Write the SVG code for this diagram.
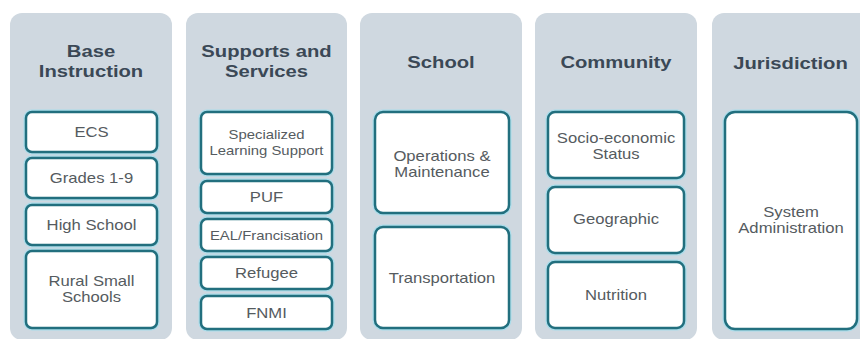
<svg xmlns="http://www.w3.org/2000/svg" width="860" height="339" viewBox="0 0 860 339">
  <style>
    .panel { fill: #cfd8e0; }
    .halo { fill: none; stroke: #a9dcea; stroke-width: 5; }
    .box { fill: #ffffff; stroke: #226f7e; stroke-width: 2.5; }
    .title { font-family: "Liberation Sans", Arial, sans-serif; font-weight: bold; font-size: 17px; fill: #3b4856; text-anchor: middle; }
    .label { font-family: "Liberation Sans", Arial, sans-serif; font-size: 14px; fill: #555b60; text-anchor: middle; }
    .small { font-size: 12.5px; }
  </style>
  <rect width="860" height="339" fill="#ffffff"/>

  <!-- Column panels -->
  <g id="panels">
    <rect class="panel" x="10" y="13" width="162" height="327" rx="12"/>
    <rect class="panel" x="186" y="13" width="161" height="327" rx="12"/>
    <rect class="panel" x="360" y="13" width="162" height="327" rx="12"/>
    <rect class="panel" x="535" y="13" width="162" height="327" rx="12"/>
    <rect class="panel" x="712" y="13" width="162" height="327" rx="12"/>
  </g>

  <!-- Column headings -->
  <g id="headings">
    <text class="title" transform="translate(91,57) scale(1.19,1)">Base</text>
    <text class="title" transform="translate(91,77) scale(1.19,1)">Instruction</text>
    <text class="title" transform="translate(266.5,57) scale(1.19,1)">Supports and</text>
    <text class="title" transform="translate(266.5,77) scale(1.19,1)">Services</text>
    <text class="title" transform="translate(441,68) scale(1.19,1)">School</text>
    <text class="title" transform="translate(616,68) scale(1.19,1)">Community</text>
    <text class="title" transform="translate(790.5,69) scale(1.19,1)">Jurisdiction</text>
  </g>

  <!-- Base Instruction -->
  <g id="ecs">
    <rect class="halo" x="26" y="112" width="131" height="40" rx="6"/>
    <rect class="box" x="26" y="112" width="131" height="40" rx="6"/>
    <text class="label" transform="translate(91.5,137) scale(1.19,1)">ECS</text>
  </g>
  <g id="grades-1-9">
    <rect class="halo" x="26" y="158" width="131" height="40" rx="6"/>
    <rect class="box" x="26" y="158" width="131" height="40" rx="6"/>
    <text class="label" transform="translate(91.5,183) scale(1.19,1)">Grades 1-9</text>
  </g>
  <g id="high-school">
    <rect class="halo" x="26" y="205" width="131" height="40" rx="6"/>
    <rect class="box" x="26" y="205" width="131" height="40" rx="6"/>
    <text class="label" transform="translate(91.5,230) scale(1.19,1)">High School</text>
  </g>
  <g id="rural-small-schools">
    <rect class="halo" x="26" y="251" width="131" height="77" rx="6"/>
    <rect class="box" x="26" y="251" width="131" height="77" rx="6"/>
    <text class="label" transform="translate(91.5,286) scale(1.19,1)">Rural Small</text>
    <text class="label" transform="translate(91.5,302) scale(1.19,1)">Schools</text>
  </g>

  <!-- Supports and Services -->
  <g id="specialized-learning-support">
    <rect class="halo" x="201" y="112" width="131" height="62" rx="6"/>
    <rect class="box" x="201" y="112" width="131" height="62" rx="6"/>
    <text class="label small" transform="translate(266.5,139) scale(1.19,1)">Specialized</text>
    <text class="label small" transform="translate(266.5,155) scale(1.19,1)">Learning Support</text>
  </g>
  <g id="puf">
    <rect class="halo" x="201" y="181" width="131" height="32" rx="6"/>
    <rect class="box" x="201" y="181" width="131" height="32" rx="6"/>
    <text class="label" transform="translate(266.5,202) scale(1.19,1)">PUF</text>
  </g>
  <g id="eal-francisation">
    <rect class="halo" x="201" y="219" width="131" height="32" rx="6"/>
    <rect class="box" x="201" y="219" width="131" height="32" rx="6"/>
    <text class="label small" transform="translate(266.5,240) scale(1.19,1)">EAL/Francisation</text>
  </g>
  <g id="refugee">
    <rect class="halo" x="201" y="257" width="131" height="32" rx="6"/>
    <rect class="box" x="201" y="257" width="131" height="32" rx="6"/>
    <text class="label" transform="translate(266.5,278) scale(1.19,1)">Refugee</text>
  </g>
  <g id="fnmi">
    <rect class="halo" x="201" y="296" width="131" height="33" rx="6"/>
    <rect class="box" x="201" y="296" width="131" height="33" rx="6"/>
    <text class="label" transform="translate(266.5,317.5) scale(1.19,1)">FNMI</text>
  </g>

  <!-- School -->
  <g id="operations-maintenance">
    <rect class="halo" x="375" y="112" width="134" height="101" rx="8"/>
    <rect class="box" x="375" y="112" width="134" height="101" rx="8"/>
    <text class="label" transform="translate(442,161) scale(1.19,1)">Operations &amp;</text>
    <text class="label" transform="translate(442,177) scale(1.19,1)">Maintenance</text>
  </g>
  <g id="transportation">
    <rect class="halo" x="375" y="227" width="134" height="101" rx="8"/>
    <rect class="box" x="375" y="227" width="134" height="101" rx="8"/>
    <text class="label" transform="translate(442,283) scale(1.19,1)">Transportation</text>
  </g>

  <!-- Community -->
  <g id="socio-economic-status">
    <rect class="halo" x="548" y="112" width="136" height="66" rx="7"/>
    <rect class="box" x="548" y="112" width="136" height="66" rx="7"/>
    <text class="label" transform="translate(616,143) scale(1.19,1)">Socio-economic</text>
    <text class="label" transform="translate(616,159) scale(1.19,1)">Status</text>
  </g>
  <g id="geographic">
    <rect class="halo" x="548" y="187" width="136" height="66" rx="7"/>
    <rect class="box" x="548" y="187" width="136" height="66" rx="7"/>
    <text class="label" transform="translate(616,224) scale(1.19,1)">Geographic</text>
  </g>
  <g id="nutrition">
    <rect class="halo" x="548" y="262" width="136" height="66" rx="7"/>
    <rect class="box" x="548" y="262" width="136" height="66" rx="7"/>
    <text class="label" transform="translate(616,300) scale(1.19,1)">Nutrition</text>
  </g>

  <!-- Jurisdiction -->
  <g id="system-administration">
    <rect class="halo" x="725" y="112" width="132" height="217" rx="10"/>
    <rect class="box" x="725" y="112" width="132" height="217" rx="10"/>
    <text class="label" transform="translate(791,217) scale(1.19,1)">System</text>
    <text class="label" transform="translate(791,233) scale(1.19,1)">Administration</text>
  </g>

  <!-- No connectors in this diagram -->
  <g id="connectors"/>
</svg>
